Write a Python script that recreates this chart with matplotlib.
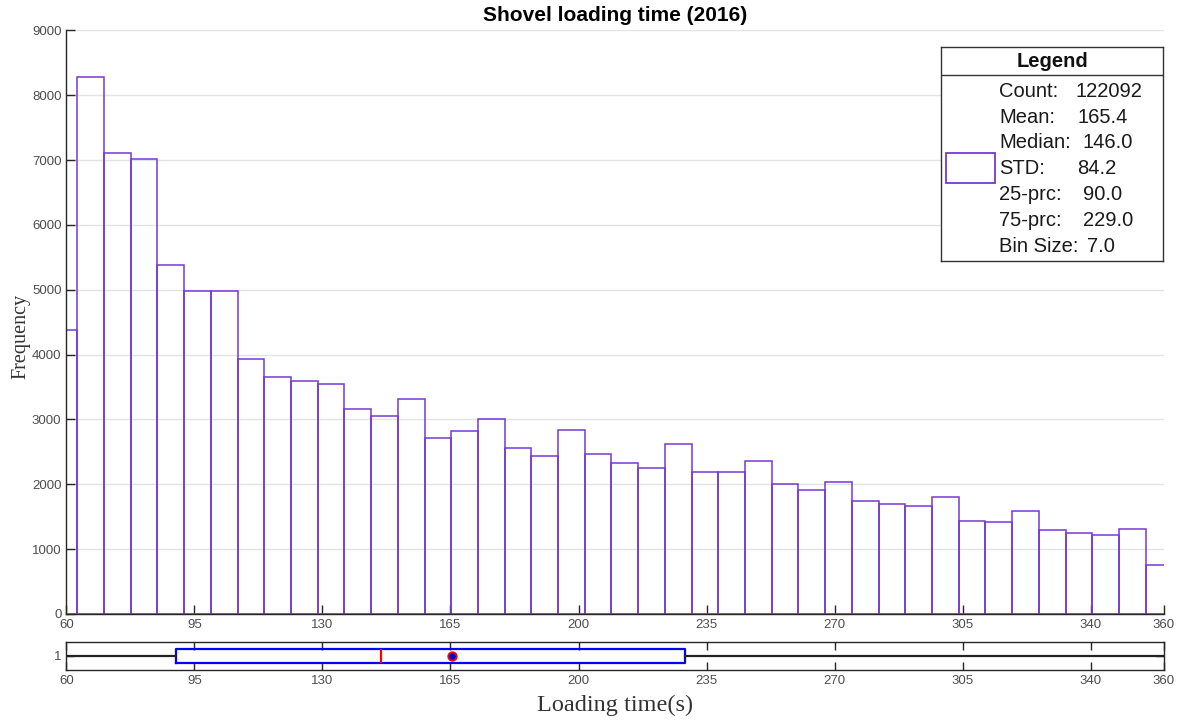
import matplotlib
matplotlib.use("Agg")
import matplotlib.pyplot as plt
from matplotlib.patches import Rectangle
import numpy as np

# ---- histogram data -------------------------------------------------------
bin_start = 55.7
bin_width = 7.3
counts = [4380, 8280, 7110, 7020, 5380, 4980, 4980, 3930, 3650, 3590,
          3550, 3160, 3055, 3308, 2717, 2815, 3000, 2563, 2430, 2830,
          2465, 2331, 2254, 2625, 2182, 2182, 2352, 2008, 1915, 2029,
          1746, 1700, 1669, 1803, 1433, 1418, 1587, 1294, 1253, 1222,
          1305, 755]

# ---- box plot summary -----------------------------------------------------
q1 = 90.0
median = 146.0
q3 = 229.0
mean = 165.4
whisker_low = 56.0
whisker_high = 437.5

# ---- legend text ----------------------------------------------------------
legend_labels = ["Count:", "Mean:", "Median:", "STD:", "25-prc:", "75-prc:", "Bin Size:"]
legend_values = ["122092", "165.4", "146.0", "84.2", "90.0", "229.0", "7.0"]

x_ticks = [60, 95, 130, 165, 200, 235, 270, 305, 340, 360]
y_ticks = list(range(0, 10000, 1000))

hist_color = "#7538d4"
axis_color = "#262626"
tick_color = "#4d4d4d"
sans = ["Liberation Sans", "DejaVu Sans"]
serif = ["Liberation Serif", "DejaVu Serif"]

W, H = 1182, 723
fig = plt.figure(figsize=(W / 100, H / 100), dpi=100)


def px_rect(left, top, right, bottom):
    return [left / W, (H - bottom) / H, (right - left) / W, (bottom - top) / H]


# ---- main histogram -------------------------------------------------------
ax = fig.add_axes(px_rect(66.3, 30.3, 1164, 614))
edges = bin_start + bin_width * np.arange(len(counts) + 1)
ax.bar(edges[:-1], counts, width=bin_width, align="edge",
       facecolor="none", edgecolor=hist_color, linewidth=1.1, zorder=2)
ax.set_xlim(60, 360)
ax.set_ylim(0, 9000)
ax.set_xticks(x_ticks)
ax.set_yticks(y_ticks)
ax.yaxis.grid(True, color="#e3e3e3", linewidth=1.0, zorder=0)
ax.set_axisbelow(True)
for side in ("top", "right"):
    ax.spines[side].set_visible(False)
for side in ("left", "bottom"):
    ax.spines[side].set_color(axis_color)
    ax.spines[side].set_linewidth(1.0)
ax.tick_params(direction="in", length=6.5, width=1.0, color=axis_color,
               labelcolor=tick_color, labelsize=9.5)
for lab in ax.get_xticklabels() + ax.get_yticklabels():
    lab.set_family(sans)
ax.set_title("Shovel loading time (2016)", fontsize=15, fontweight="bold",
             family=sans, pad=7)
ax.set_ylabel("Frequency", fontsize=14.5, family=serif, color="#333333")
ax.yaxis.set_label_coords(-0.033, 0.475)

# ---- legend box -----------------------------------------------------------
lg = fig.add_axes(px_rect(941, 47, 1163, 261))
lg.set_xlim(0, 222)
lg.set_ylim(214, 0)
lg.set_xticks([])
lg.set_yticks([])
for sp in lg.spines.values():
    sp.set_color("#333333")
    sp.set_linewidth(1.0)
lg.axhline(28, color="#333333", linewidth=1.0)
lg.text(111, 14.5, "Legend", ha="center", va="center", fontsize=14.5,
        fontweight="bold", family=sans, color="#111111")
lg.add_patch(Rectangle((5, 106), 49, 30, facecolor="none",
                       edgecolor=hist_color, linewidth=1.3))
row_y = [44.7, 70.7, 95.0, 121.0, 147.0, 173.0, 199.0]
value_x = [134.7, 136.7, 141.7, 135.7, 142.0, 142.0, 145.7]
for lab, val, y, vx in zip(legend_labels, legend_values, row_y, value_x):
    lg.text(58, y, lab, ha="left", va="center", fontsize=14.5, family=sans,
            color="#1a1a1a")
    lg.text(vx, y, val, ha="left", va="center", fontsize=14.5, family=sans,
            color="#1a1a1a")

# ---- box plot strip -------------------------------------------------------
bx = fig.add_axes(px_rect(66.3, 641.7, 1164, 670))
stats = [dict(med=median, q1=q1, q3=q3, whislo=whisker_low,
              whishi=whisker_high, mean=mean, fliers=[])]
bx.bxp(stats, positions=[1], widths=0.48, orientation="horizontal",
       showmeans=True, showcaps=False, showfliers=False,
       boxprops=dict(color="blue", linewidth=1.6),
       medianprops=dict(color="red", linewidth=1.6),
       whiskerprops=dict(color="#222222", linewidth=1.6),
       meanprops=dict(marker="o", markerfacecolor="#0000cc",
                      markeredgecolor="red", markersize=6,
                      markeredgewidth=1.4))
bx.set_xlim(60, 360)
bx.set_ylim(0.5, 1.5)
bx.set_xticks(x_ticks)
bx.set_xticklabels([str(t) for t in x_ticks])
bx.set_yticks([1])
bx.set_yticklabels(["1"])
for sp in bx.spines.values():
    sp.set_color(axis_color)
    sp.set_linewidth(1.0)
bx.tick_params(direction="in", length=6, width=1.0, color=axis_color,
               labelcolor=tick_color, labelsize=9.5, top=True, right=True)
for lab in bx.get_xticklabels() + bx.get_yticklabels():
    lab.set_family(sans)
bx.set_xlabel("Loading time(s)", fontsize=17.5, family=serif,
              color="#333333", labelpad=6)

fig.savefig("out.png", dpi=100, facecolor="white")
